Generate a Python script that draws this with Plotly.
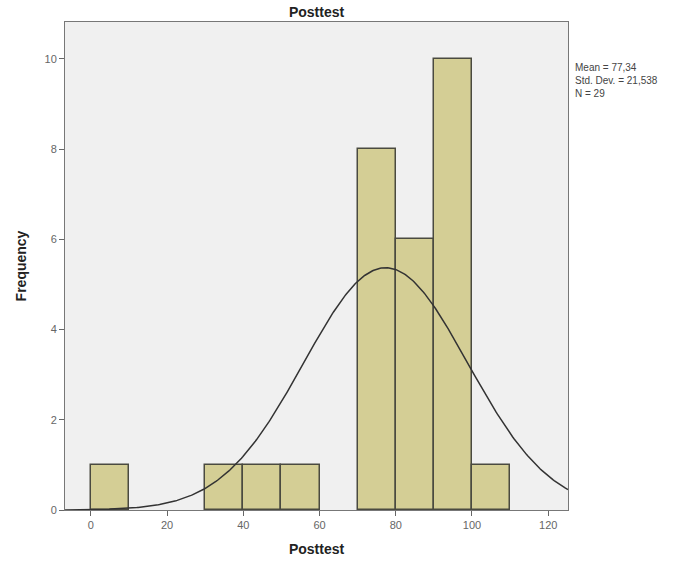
import numpy as np
import plotly.graph_objects as go

bin_starts = [0, 10, 20, 30, 40, 50, 60, 70, 80, 90, 100, 110]
counts = [1, 0, 0, 1, 1, 1, 0, 8, 6, 10, 1, 0]
bin_width = 10
mean_val = 77.34
std_val = 21.538
n_val = 29
x_ticks = [0, 20, 40, 60, 80, 100, 120]
y_ticks = [0, 2, 4, 6, 8, 10]

nz = [(s, c) for s, c in zip(bin_starts, counts) if c > 0]

fig = go.Figure()
fig.add_trace(go.Bar(
    x=[s + bin_width / 2 for s, c in nz], y=[c for s, c in nz], width=bin_width,
    marker=dict(color="#d4ce95", line=dict(color="#4a4a40", width=1.5)),
    hoverinfo="skip", showlegend=False,
))
xc = np.linspace(-6.8, 125.2, 400)
yc = n_val * bin_width / (std_val * np.sqrt(2 * np.pi)) * np.exp(-0.5 * ((xc - mean_val) / std_val) ** 2)
fig.add_trace(go.Scatter(x=xc, y=yc, mode="lines", line=dict(color="#333333", width=1.5),
                         showlegend=False, hoverinfo="skip"))

fig.update_layout(
    width=692, height=563,
    margin=dict(l=65, r=124, t=22, b=53),
    paper_bgcolor="white", plot_bgcolor="#f0f0f0",
    bargap=0,
    title=dict(text="<b>Posttest</b>", x=(65 + 568) / 2 / 692, xanchor="center", y=1 - 12 / 563, yanchor="middle",
               font=dict(family="Arial, Liberation Sans", size=14, color="#222")),
    font=dict(family="Arial, Liberation Sans", color="#555"),
)
fig.update_xaxes(range=[-6.8, 125.2], tickvals=x_ticks, ticks="outside", ticklen=5, tickcolor="#666",
                 showgrid=False, zeroline=False, showline=True, linecolor="#777", linewidth=1, mirror=True,
                 tickfont=dict(size=11, color="#666"), automargin=False,
                 title=dict(text="<b>Posttest</b>", font=dict(size=14, color="#222"), standoff=13))
fig.update_yaxes(range=[0, 10.82], tickvals=y_ticks, ticks="outside", ticklen=5, tickcolor="#666",
                 showgrid=False, zeroline=False, showline=True, linecolor="#777", linewidth=1, mirror=True,
                 tickfont=dict(size=11, color="#666"), automargin=False,
                 title=dict(text="<b>Frequency</b>", font=dict(size=14, color="#222"), standoff=14))
fig.add_annotation(xref="paper", yref="paper", x=1.01, y=1 - (60 - 22) / 488, xanchor="left", yanchor="top",
                   align="left", showarrow=False,
                   text=f"Mean = {str(mean_val).replace('.', ',')}<br>Std. Dev. = {str(std_val).replace('.', ',')}<br>N = {n_val}",
                   font=dict(size=10, color="#444"))
fig.write_html("out.html")
